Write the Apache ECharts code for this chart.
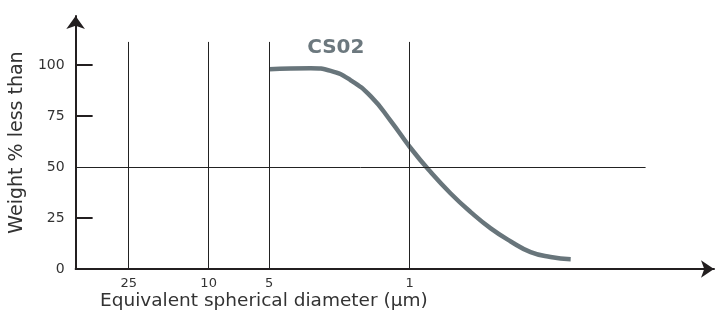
<!DOCTYPE html>
<html>
<head>
<meta charset="utf-8">
<script src="https://cdn.jsdelivr.net/npm/echarts@6/dist/echarts.min.js"></script>
<style>
  html, body { margin: 0; padding: 0; background: #fff; }
  #chart { width: 721px; height: 313px; }
</style>
</head>
<body>
<div id="chart"></div>
<script>
// diameter (um) / weight % less than
var diameters = [5, 3.91, 3.11, 2.47, 1.97, 1.56, 1.24, 0.989, 0.786, 0.625, 0.497, 0.395, 0.314, 0.25, 0.199, 0.158];
var weights   = [97.9, 98.3, 98.4, 97.1, 92.6, 84.6, 72.5, 59.3, 47.5, 37.0, 27.9, 19.9, 13.5, 8.3, 5.9, 4.8];
var xTicks = [25, 10, 5, 1];
var yTicks = [0, 25, 50, 75, 100];
var seriesName = 'CS02';

var chart = echarts.init(document.getElementById('chart'));

var curve = [];
for (var i = 0; i < diameters.length; i++) {
    curve.push([diameters[i], weights[i]]);
}

// gridlines
var vLines = xTicks.map(function (d) {
    return [{ coord: [d, 0] }, { coord: [d, 111.3] }];
});
var hLine = [[{ coord: [45.9, 50] }, { coord: [0.067, 50] }]];

var axisColor = '#231f20';
var font = 'DejaVu Sans, Verdana, sans-serif';

var option = {
    animation: false,
    grid: { left: 75, right: 7, top: 16, bottom: 44 },
    xAxis: {
        type: 'log',
        inverse: true,
        min: 0.0306,
        max: 45.9,
        axisLine: {
            show: true,
            symbol: ['none', 'arrow'],
            symbolSize: [13, 13],
            lineStyle: { color: axisColor, width: 2 }
        },
        axisTick: { show: false },
        splitLine: { show: false },
        axisLabel: {
            customValues: xTicks,
            formatter: function (v) { return String(Math.round(v)); },
            color: '#333',
            fontFamily: font,
            fontSize: 13,
            margin: 8
        }
    },
    yAxis: {
        type: 'value',
        min: 0,
        max: 124,
        axisLine: {
            show: true,
            symbol: ['none', 'arrow'],
            symbolSize: [14, 13],
            lineStyle: { color: axisColor, width: 2 }
        },
        axisTick: {
            show: true,
            inside: true,
            length: 17,
            customValues: [25, 75, 100],
            lineStyle: { color: axisColor, width: 2 }
        },
        splitLine: { show: false },
        axisLabel: {
            customValues: yTicks,
            color: '#333',
            fontFamily: font,
            fontSize: 14,
            margin: 11
        },
        name: 'Weight % less than',
        nameLocation: 'middle',
        nameRotate: 90,
        nameGap: 44,
        nameTextStyle: { color: '#333', fontFamily: font, fontSize: 19 }
    },
    graphic: [{
        type: 'text',
        left: 100,
        top: 292,
        style: {
            text: 'Equivalent spherical diameter (μm)',
            fill: '#333',
            font: '18.5px ' + font
        }
    }],
    series: [
        {
            type: 'line',
            silent: true,
            data: [],
            markLine: {
                silent: true,
                symbol: ['none', 'none'],
                label: { show: false },
                lineStyle: { color: '#222', width: 1, type: 'solid' },
                data: vLines.concat(hLine)
            }
        },
        {
            name: seriesName,
            type: 'line',
            smooth: true,
            showSymbol: false,
            data: curve,
            lineStyle: { color: '#68757b', width: 4.5 },
            itemStyle: { color: '#68757b' },
            markPoint: {
                symbol: 'circle',
                symbolSize: 0,
                label: {
                    show: true,
                    formatter: seriesName,
                    color: '#6c787e',
                    fontFamily: font,
                    fontWeight: 'bold',
                    fontSize: 20
                },
                data: [{ coord: [2.33, 108.3] }]
            }
        }
    ]
};

chart.setOption(option);
</script>
</body>
</html>
